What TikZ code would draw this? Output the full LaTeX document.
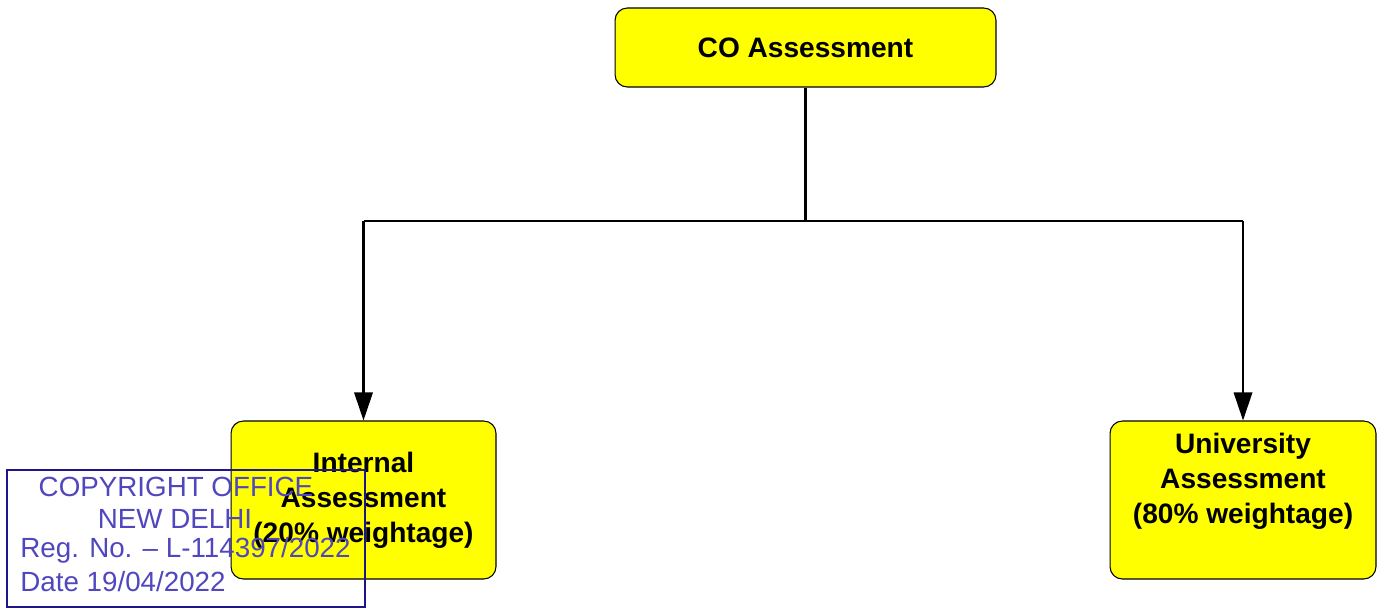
\documentclass[tikz,border=0pt]{standalone}
\usepackage{fontspec}
\setmainfont{Liberation Sans}
\usetikzlibrary{arrows.meta,calc}
\definecolor{boxyellow}{RGB}{255,255,0}
\definecolor{stampblue}{RGB}{30,20,140}
\definecolor{stampink}{RGB}{80,70,190}

\begin{document}
\begin{tikzpicture}[x=0.02cm,y=-0.02cm,
	box/.style={draw=black, line width=0.6pt, fill=boxyellow, rounded corners=7pt, inner sep=0pt, align=center, font=\fontsize{16}{20}\selectfont\bfseries},
	link/.style={line width=1.2pt},
	stamptext/.style={text=stampink, inner sep=0pt, font=\fontsize{15.8}{18}\selectfont}]
			%%%%% START %%%%%
			\useasboundingbox (0,0) rectangle (1381,609);
			
			\node[box, minimum width=7.62cm, minimum height=1.58cm] (co) at (805.5,47.5) {CO Assessment};
			\node[box, minimum width=5.3cm, minimum height=3.16cm] (internal) at (363.5,500) {Internal\\Assessment\\(20\% weightage)};
			\node[box, minimum width=5.32cm, minimum height=3.16cm] (university) at (1243,500) {};
			\node[align=center, anchor=north, inner sep=0pt, font=\fontsize{16}{20}\selectfont\bfseries] (unitext) at ($(university.north)+(0,12)$) {University\\Assessment\\(80\% weightage)};
			
			\coordinate (split) at (co.south |- 0,221);
			\draw[link] (co.south) -- (split);
			\draw[link] (internal.north |- split) -- (university.north |- split);
			\draw[link, -{Triangle[length=16pt,width=10.5pt]}] (internal.north |- split) -- (internal.north);
			\draw[link, -{Triangle[length=16pt,width=10.5pt]}] (university.north |- split) -- (university.north);
			
			\draw[draw=stampblue, line width=1.4pt] (7,470) rectangle (365,607);
			\node[stamptext] (copyright) at (176,487) {COPYRIGHT OFFICE};
			\node[stamptext] (delhi) at (175,519) {NEW DELHI};
			\node[stamptext, anchor=west] (regno) at (20,550) {Reg. No. -- L-114397/2022};
			\node[stamptext, anchor=west] (regdate) at (20,582) {Date 19/04/2022};
			
			%%%%% END %%%%%
\end{tikzpicture}
\end{document}
